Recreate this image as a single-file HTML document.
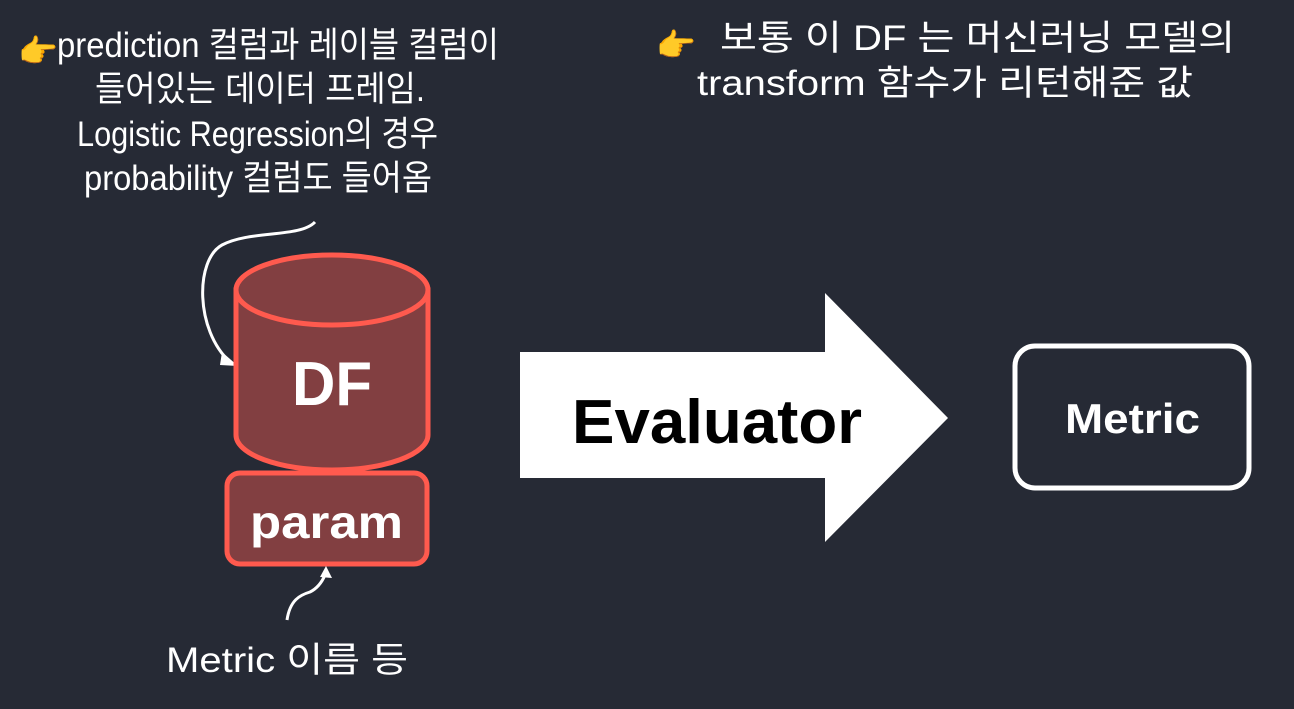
<!DOCTYPE html>
<html><head><meta charset="utf-8"><style>
html,body{margin:0;padding:0;background:#262a35;}
svg{display:block}
text{font-family:"Liberation Sans","Noto Sans CJK KR",sans-serif;fill:#fff}
</style></head><body>
<svg width="1294" height="709" viewBox="0 0 1294 709" xmlns="http://www.w3.org/2000/svg">
<rect width="1294" height="709" fill="#262a35"/>
<g font-size="35" lengthAdjust="spacingAndGlyphs">
<text x="57" y="57" textLength="442" lengthAdjust="spacingAndGlyphs">prediction 컬럼과 레이블 컬럼이</text>
<text x="95" y="101" textLength="330" lengthAdjust="spacingAndGlyphs">들어있는 데이터 프레임.</text>
<text x="77" y="146" textLength="361" lengthAdjust="spacingAndGlyphs">Logistic Regression의 경우</text>
<text x="84" y="190" textLength="348" lengthAdjust="spacingAndGlyphs">probability 컬럼도 들어옴</text>
<text x="720" y="50" textLength="515" lengthAdjust="spacingAndGlyphs">보통 이 DF 는 머신러닝 모델의</text>
<text x="697" y="95" textLength="496" lengthAdjust="spacingAndGlyphs">transform 함수가 리턴해준 값</text>
<text x="166" y="672" textLength="242" lengthAdjust="spacingAndGlyphs">Metric 이름 등</text>
</g>
<text x="18" y="62" font-size="32">👉</text>
<text x="656" y="56" font-size="32">👉</text>
<path d="M315 222 C300 238 250 230 222 245 C195 260 195 330 230 362" fill="none" stroke="#fff" stroke-width="3"/>
<polygon points="222,352 238,366 220,365" fill="#fff"/>
<path d="M236 290 L236 435 A96 35 0 0 0 428 435 L428 290 Z" fill="#823f41" stroke="#ff5a4e" stroke-width="5"/>
<ellipse cx="332" cy="290" rx="96" ry="35" fill="#823f41" stroke="#ff5a4e" stroke-width="5"/>
<text x="292" y="405" font-size="62" font-weight="bold" textLength="80" lengthAdjust="spacingAndGlyphs">DF</text>
<rect x="227" y="473" width="200" height="91" rx="13" fill="#823f41" stroke="#ff5a4e" stroke-width="5"/>
<text x="250" y="538" font-size="46" font-weight="bold" textLength="153" lengthAdjust="spacingAndGlyphs">param</text>
<path d="M287 620 C290 600 300 595 310 592 C318 588 322 582 325 575" fill="none" stroke="#fff" stroke-width="3"/>
<polygon points="326,566 332,578 320,577" fill="#fff"/>
<polygon points="520,352 825,352 825,293 948,418 825,542 825,478 520,478" fill="#fff"/>
<text x="572" y="443" font-size="62" font-weight="bold" textLength="290" lengthAdjust="spacingAndGlyphs" style="fill:#000">Evaluator</text>
<rect x="1015" y="346" width="234" height="142" rx="20" fill="none" stroke="#fff" stroke-width="5"/>
<text x="1065" y="433" font-size="42" font-weight="bold" textLength="135" lengthAdjust="spacingAndGlyphs">Metric</text>
</svg>
</body></html>
